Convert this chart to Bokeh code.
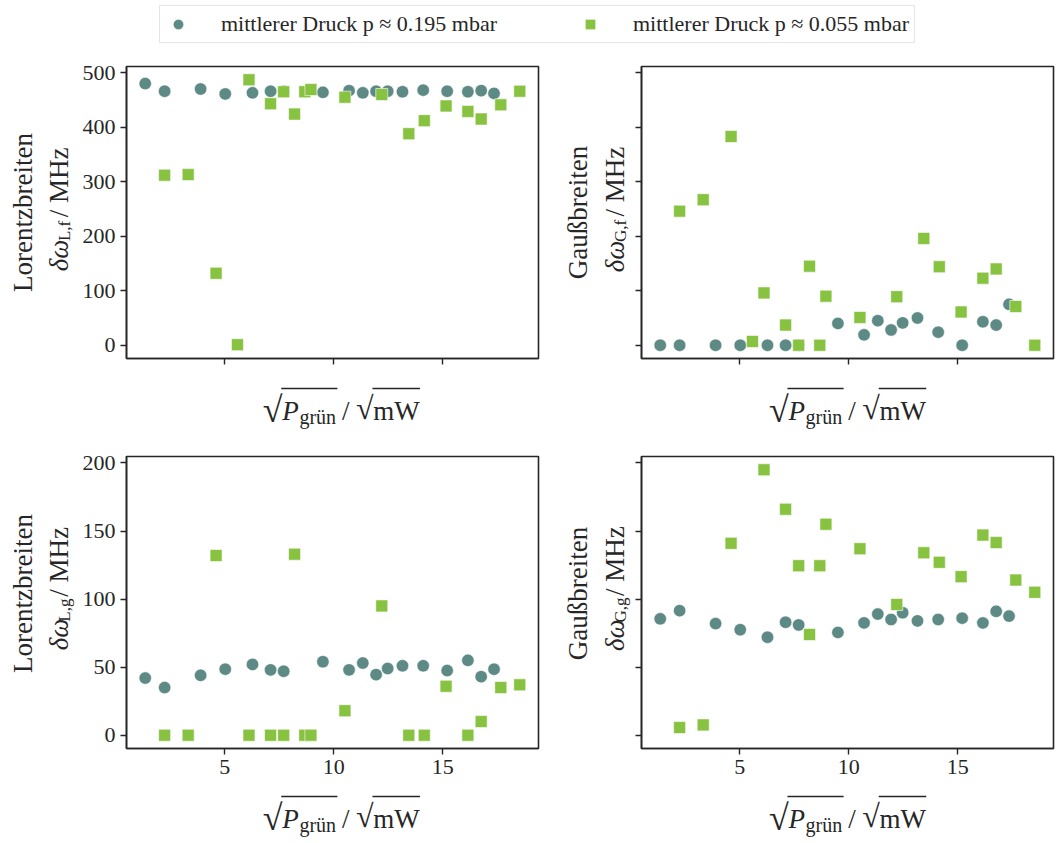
import math
import numpy as np
from bokeh.plotting import figure
from bokeh.models import Range1d, FixedTicker, CustomJSTickFormatter, Legend, LegendItem
from bokeh.core.properties import value
from bokeh.layouts import column, row
from bokeh.embed import file_html
from bokeh.resources import INLINE

# ---------------- data ----------------
# sqrt(P_gruen) / sqrt(mW)
x_high = [1.35, 2.24, 3.89, 5.02, 6.27, 7.10, 7.70, 9.50, 10.70, 11.33, 11.94,
          12.47, 13.15, 14.10, 15.20, 16.15, 16.76, 17.35]
x_low = [2.24, 3.32, 4.60, 5.58, 6.11, 7.10, 7.70, 8.20, 8.67, 8.95, 10.51,
         12.20, 13.44, 14.15, 15.15, 16.15, 16.76, 17.66, 18.53]
nan = float("nan")

# Lorentzbreiten delta omega_L,f / MHz
lf_high = [480, 466, 470, 461, 463, 466, 466, 464, 467, 463, 466, 466, 465, 468,
           466, 465, 467, 462]
lf_low = [312, 313, 132, 1, 487, 443, 465, 424, 465, 469, 455, 460, 388, 412,
          439, 429, 415, 441, 466]
# Gaussbreiten delta omega_G,f / MHz
gf_high = [0, 0, 0, 0, 0, 0, 0, 40, 19, 45, 28, 41, 50, 24, 0, 43, 37, 75]
gf_low = [246, 267, 383, 7, 96, 37, 0, 145, 0, 90, 51, 89, 196, 144, 61, 123,
          140, 71, 0]
# Lorentzbreiten delta omega_L,g / MHz
lg_high = [42, 35, 44, 48.5, 52, 48, 47, 54, 48, 53, 44.5, 49, 51, 51, 47.5, 55,
           43, 48.5]
lg_low = [0, 0, 132, nan, 0, 0, 0, 133, 0, 0, 18, 95, 0, 0, 36, 0, 10, 35, 37]
# Gaussbreiten delta omega_G,g / MHz
gg_high = [85.5, 91.5, 82, 77.5, 72, 83, 81, 75.5, 82.5, 89, 85, 90, 84, 85, 86,
           82.5, 91, 87.5]
gg_low = [5.6, 7.6, 141, nan, 195, 166, 124.5, 74, 124.5, 155, 137, 96, 134, 127,
          116.5, 147, 141.5, 114, 105]

x_ticks = [5, 10, 15]
top_ticks = [0, 100, 200, 300, 400, 500]
bottom_ticks = [0, 50, 100, 150, 200]
legend_labels = ["mittlerer Druck p ≈ 0.195 mbar", "mittlerer Druck p ≈ 0.055 mbar"]

# ---------------- style / layout ----------------
FONT = "Liberation Serif"
INK = "#262626"
C_HIGH = "#5e8a86"
C_LOW = "#87c240"
LABEL_PX = 27
SUB_PX = 17
XSUB_PX = 20
RAD1_PX = 36
RAD2_PX = 32
TICK_PX = "22px"

W_TOTAL = 1056
LEG_H = 52
FW, FH = 412, 292
A_TOP, A_BOT = 14, 14
B_TOP, B_BOT = 13, 34
YL_W, P1_L, P1_R = 76, 50, 10
YR_W, P2_L, P2_R = 83, 10, 3
HA = A_TOP + FH + A_BOT
HB = B_TOP + FH + B_BOT
XA_H = 71
XB_H = 842 - (LEG_H + HA + XA_H + HB)

# approximate advance widths (1/1000 em), Times-like metrics
TW = {'L': 611, 'o': 500, 'r': 333, 'e': 444, 'n': 500, 't': 278, 'z': 444,
      'b': 500, 'i': 278, 'G': 722, 'a': 444, 'u': 500, 'ß': 500, ' ': 250,
      '/': 278, 'M': 889, 'H': 722, '√': 549, 'm': 778, 'W': 944, ',': 250,
      'f': 333, 'g': 500, 'ü': 500, 'P': 611, 'δ': 500, 'ω': 690}
RAD_TOP = 0.6   # height of the radical sign above its baseline, in em


def tw(s, size):
    return sum(TW.get(c, 500) for c in s) * size / 1000.0


def padded(vals):
    a = np.array(vals, dtype=float)
    a = a[~np.isnan(a)]
    lo, hi = a.min(), a.max()
    m = 0.05 * (hi - lo)
    return lo - m, hi + m


xlim = padded(x_high + x_low)
top_lim = padded(lf_high + lf_low + gf_high + gf_low)
bot_lim = padded(lg_high + lg_low + gg_high + gg_low)


def panel(yh, yl, ylim, yticks, show_x, show_y, bl, br, bt, bb):
    p = figure(frame_width=FW, frame_height=FH, x_range=Range1d(*xlim),
               y_range=Range1d(*ylim), output_backend="svg",
               toolbar_location=None, min_border_left=bl, min_border_right=br,
               min_border_top=bt, min_border_bottom=bb)
    p.grid.visible = False
    p.background_fill_color = "white"
    p.border_fill_color = "white"
    p.outline_line_color = INK
    p.outline_line_width = 1.6
    p.outline_line_alpha = 1.0
    for ax in (p.xaxis[0], p.yaxis[0]):
        ax.axis_line_color = INK
        ax.axis_line_width = 1.6
        ax.major_tick_line_color = INK
        ax.major_tick_line_width = 1.4
        ax.major_tick_out = 6
        ax.major_tick_in = 0
        ax.minor_tick_line_color = None
        ax.major_label_text_font = FONT
        ax.major_label_text_font_size = TICK_PX
        ax.major_label_text_color = INK
        ax.major_label_standoff = 5
    p.xaxis.ticker = FixedTicker(ticks=x_ticks)
    p.yaxis.ticker = FixedTicker(ticks=yticks)
    if not show_x:
        p.xaxis.formatter = CustomJSTickFormatter(code="return ''")
        p.xaxis.major_label_text_font_size = "0px"
        p.xaxis.major_label_standoff = 0
    if not show_y:
        p.yaxis.formatter = CustomJSTickFormatter(code="return ''")
        p.yaxis.major_label_text_font_size = "0px"
        p.yaxis.major_label_standoff = 0
    p.scatter(x_high, yh, marker="circle", size=12.5, fill_color=C_HIGH,
              line_color="white", line_width=0.6)
    p.scatter(x_low, yl, marker="square", size=12, fill_color=C_LOW,
              line_color="white", line_width=0.6)
    return p


def strip(w, h):
    f = figure(width=w, height=h, x_range=Range1d(0, w), y_range=Range1d(0, h),
               output_backend="svg", toolbar_location=None, min_border=0,
               x_axis_location=None, y_axis_location=None)
    f.grid.visible = False
    f.outline_line_color = None
    f.background_fill_color = "white"
    f.border_fill_color = "white"
    return f


def put(f, x, y_top, text, size, angle=0.0, style="normal", align="left",
        baseline="alphabetic"):
    h = f.y_range.end
    f.text(x=[x], y=[h - y_top], text=[text], angle=angle,
           text_font=value(FONT), text_font_size=value(f"{size}px"),
           text_font_style=value(style), text_align=value(align),
           text_baseline=value(baseline), text_color=INK)


def ylabel_strip(w, h, top, title, sub, x1, xb):
    f = strip(w, h)
    yc = top + FH / 2
    put(f, x1, yc, title, LABEL_PX, angle=math.pi / 2, align="center",
        baseline="middle")
    w1 = tw("δω", LABEL_PX)
    w2 = tw(sub, SUB_PX)
    w3 = tw(" / MHz", LABEL_PX)
    s = yc + (w1 + w2 + w3) / 2
    put(f, xb, s, "δω", LABEL_PX, angle=math.pi / 2, style="italic")
    put(f, xb + 6, s - w1 - 1, sub, SUB_PX, angle=math.pi / 2)
    put(f, xb, s - w1 - w2 - tw(" ", LABEL_PX), "/ MHz", LABEL_PX,
        angle=math.pi / 2)
    return f


def xlabel(f, xc, yb):
    bar_y = yb - 22
    w_rad = tw("√", RAD1_PX)
    w_p = tw("P", LABEL_PX)
    w_sub = tw("grün", XSUB_PX)
    w_sp = tw(" ", LABEL_PX)
    w_sl = tw("/ ", LABEL_PX)
    w_rad2 = tw("√", RAD2_PX)
    w_mw = tw("mW", LABEL_PX)
    total = w_rad + w_p + 1 + w_sub + w_sp + w_sl + w_rad2 + w_mw
    x = xc - total / 2 - 4
    put(f, x, bar_y + RAD_TOP * RAD1_PX, "√", RAD1_PX)
    bar1_start = x + w_rad * 0.95
    x += w_rad
    put(f, x, yb, "P", LABEL_PX, style="italic")
    x += w_p + 1
    put(f, x, yb + 6, "grün", XSUB_PX)
    x += w_sub
    bar1_end = x + 2
    x += w_sp
    put(f, x, yb, "/", LABEL_PX)
    x += w_sl
    put(f, x, bar_y + RAD_TOP * RAD2_PX, "√", RAD2_PX)
    bar2_start = x + w_rad2 * 0.95
    x += w_rad2
    put(f, x, yb, "mW", LABEL_PX)
    bar2_end = x + w_mw + 1
    h = f.y_range.end
    f.segment(x0=[bar1_start, bar2_start], y0=[h - bar_y, h - bar_y],
              x1=[bar1_end, bar2_end], y1=[h - bar_y, h - bar_y],
              line_color=INK, line_width=1.3)


p1 = panel(lf_high, lf_low, top_lim, top_ticks, False, True, P1_L, P1_R, A_TOP, A_BOT)
p2 = panel(gf_high, gf_low, top_lim, top_ticks, False, False, P2_L, P2_R, A_TOP, A_BOT)
p3 = panel(lg_high, lg_low, bot_lim, bottom_ticks, True, True, P1_L, P1_R, B_TOP, B_BOT)
p4 = panel(gg_high, gg_low, bot_lim, bottom_ticks, True, False, P2_L, P2_R, B_TOP, B_BOT)

ylA = ylabel_strip(YL_W, HA, A_TOP, "Lorentzbreiten", "L,f", 22, 58)
yrA = ylabel_strip(YR_W, HA, A_TOP, "Gaußbreiten", "G,f", 29, 66)
ylB = ylabel_strip(YL_W, HB, B_TOP, "Lorentzbreiten", "L,g", 22, 58)
yrB = ylabel_strip(YR_W, HB, B_TOP, "Gaußbreiten", "G,g", 29, 66)

left_center = YL_W + P1_L + FW / 2
right_center = YL_W + P1_L + FW + P1_R + YR_W + P2_L + FW / 2
xA = strip(W_TOTAL, XA_H)
xlabel(xA, left_center, 38)
xlabel(xA, right_center, 38)
xB = strip(W_TOTAL, XB_H)
xlabel(xB, left_center, 36)
xlabel(xB, right_center, 36)

# legend strip (series drawn outside its visible range, only the key shows)
leg = figure(width=W_TOTAL, height=LEG_H, output_backend="svg",
             toolbar_location=None, x_range=Range1d(-2, -1),
             y_range=Range1d(-2, -1), min_border=0, min_border_left=18,
             x_axis_location=None, y_axis_location=None)
leg.grid.visible = False
leg.outline_line_color = None
g1 = leg.scatter(x_high, lf_high, marker="circle", size=12, fill_color=C_HIGH,
                 line_color="white", line_width=0.6)
g2 = leg.scatter(x_low, lf_low, marker="square", size=12, fill_color=C_LOW,
                 line_color="white", line_width=0.6)
legend = Legend(items=[LegendItem(label=legend_labels[0], renderers=[g1]),
                       LegendItem(label=legend_labels[1], renderers=[g2])],
                orientation="horizontal", location="top_center",
                label_text_font=FONT, label_text_font_size="22px",
                label_text_color=INK, glyph_width=26, glyph_height=26,
                label_standoff=30, spacing=80, padding=5, margin=5,
                border_line_color="#cccccc", border_line_width=1.3,
                background_fill_color="white", background_fill_alpha=1.0)
leg.add_layout(legend, "center")

layout = column(leg, row(ylA, p1, yrA, p2), xA, row(ylB, p3, yrB, p4), xB)
open("out.html", "w").write(file_html(layout, INLINE))
